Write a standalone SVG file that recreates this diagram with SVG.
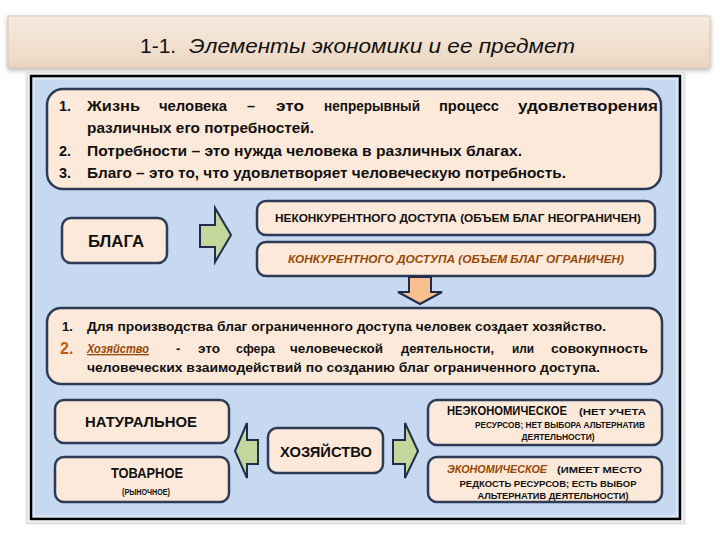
<svg xmlns="http://www.w3.org/2000/svg" width="720" height="540" viewBox="0 0 720 540">
<defs>
<linearGradient id="tg" x1="0" y1="0" x2="0" y2="1">
<stop offset="0" stop-color="#f6eadf"/><stop offset="0.5" stop-color="#f2e1d1"/><stop offset="1" stop-color="#ead5c2"/>
</linearGradient>
<filter id="sh" x="-5%" y="-20%" width="110%" height="140%">
<feDropShadow dx="0" dy="2" stdDeviation="2.5" flood-color="#888" flood-opacity="0.6"/>
</filter>
<style>
text{font-family:"Liberation Sans","Noto Sans",sans-serif;fill:#111;}
.box{fill:#fde9d9;stroke:#2e3b57;stroke-width:2.5;}
.ga{fill:#c3d69b;stroke:#1f2d4a;stroke-width:2;stroke-linejoin:miter;}
.oa{fill:#fac08f;stroke:#1f2d4a;stroke-width:2;}
.b{font-weight:bold;}
.br{fill:#984806;}
.m{font-size:14px;font-weight:bold;}
.s{font-size:9px;font-weight:bold;}
</style>
</defs>

<g id="title">
<rect x="8" y="16" width="702" height="52" fill="url(#tg)" stroke="#d9c6b4" stroke-width="1" filter="url(#sh)"/>
<text x="140" y="53" font-size="21">1-1.</text>
<text x="189" y="53" font-size="21" font-style="italic" textLength="386" lengthAdjust="spacingAndGlyphs">Элементы экономики и ее предмет</text>
</g>

<g id="frame">
<rect x="27" y="72" width="657" height="451" fill="none" stroke="#e3e3e3" stroke-width="3"/>
<rect x="31" y="76" width="649" height="443" fill="#c6d9f1" stroke="#000" stroke-width="2.5"/>
<rect x="34" y="79" width="643" height="437" fill="none" stroke="#dbe6f4" stroke-width="2"/>
</g>

<g id="box1">
<rect class="box" x="47" y="89" width="614" height="100" rx="16"/>
<g font-size="14.5">
<text x="59" y="111" class="b">1.</text>
<text x="87" y="111" class="b" textLength="53" lengthAdjust="spacingAndGlyphs">Жизнь</text>
<text x="159" y="111" class="b" textLength="68" lengthAdjust="spacingAndGlyphs">человека</text>
<text x="247" y="111" class="b">–</text>
<text x="276" y="111" class="b" textLength="28" lengthAdjust="spacingAndGlyphs">это</text>
<text x="324" y="111" class="b" textLength="96" lengthAdjust="spacingAndGlyphs">непрерывный</text>
<text x="439" y="111" class="b" textLength="60" lengthAdjust="spacingAndGlyphs">процесс</text>
<text x="518" y="111" class="b" textLength="140" lengthAdjust="spacingAndGlyphs">удовлетворения</text>
<text x="87" y="133" class="b" textLength="227" lengthAdjust="spacingAndGlyphs">различных его потребностей.</text>
<text x="59" y="156" class="b">2.</text>
<text x="87" y="156" class="b" textLength="435" lengthAdjust="spacingAndGlyphs">Потребности – это нужда человека в различных благах.</text>
<text x="59" y="178" class="b">3.</text>
<text x="87" y="178" class="b" textLength="479" lengthAdjust="spacingAndGlyphs">Благо – это то, что удовлетворяет человеческую потребность.</text>
</g>
</g>

<g id="blaga">
<rect class="box" x="62" y="218" width="105" height="45" rx="9"/>
<text x="116" y="247" font-size="17" class="b" text-anchor="middle" textLength="56" lengthAdjust="spacingAndGlyphs">БЛАГА</text>
</g>

<g id="nekonk">
<rect class="box" x="257" y="201" width="398" height="34" rx="9"/>
<text x="458" y="222" font-size="11" class="b" text-anchor="middle" textLength="366" lengthAdjust="spacingAndGlyphs">НЕКОНКУРЕНТНОГО ДОСТУПА (ОБЪЕМ БЛАГ НЕОГРАНИЧЕН)</text>
</g>

<g id="konk">
<rect class="box" x="257" y="242" width="398" height="34" rx="9"/>
<text x="456" y="263" font-size="11" class="b br" font-style="italic" text-anchor="middle" textLength="336" lengthAdjust="spacingAndGlyphs">КОНКУРЕНТНОГО ДОСТУПА (ОБЪЕМ БЛАГ ОГРАНИЧЕН)</text>
</g>

<g id="box2">
<rect class="box" x="47" y="308" width="615" height="76" rx="14"/>
<text x="62" y="331" font-size="13" class="b">1.</text>
<text x="87" y="331" font-size="13" class="b" textLength="519" lengthAdjust="spacingAndGlyphs">Для производства благ ограниченного доступа человек создает хозяйство.</text>
<text x="60" y="354" font-size="16" class="b" style="fill:#c55a11">2.</text>
<text x="87" y="353" font-size="13" class="b br" font-style="italic" text-decoration="underline" textLength="62" lengthAdjust="spacingAndGlyphs">Хозяйство</text>
<g font-size="13">
<text x="176" y="353" class="b">-</text>
<text x="198" y="353" class="b" textLength="22" lengthAdjust="spacingAndGlyphs">это</text>
<text x="236" y="353" class="b" textLength="39" lengthAdjust="spacingAndGlyphs">сфера</text>
<text x="290" y="353" class="b" textLength="93" lengthAdjust="spacingAndGlyphs">человеческой</text>
<text x="401" y="353" class="b" textLength="93" lengthAdjust="spacingAndGlyphs">деятельности,</text>
<text x="512" y="353" class="b" textLength="22" lengthAdjust="spacingAndGlyphs">или</text>
<text x="551" y="353" class="b" textLength="97" lengthAdjust="spacingAndGlyphs">совокупность</text>
<text x="87" y="372" class="b" textLength="513" lengthAdjust="spacingAndGlyphs">человеческих взаимодействий по созданию благ ограниченного доступа.</text>
</g>
</g>

<g id="natur">
<rect class="box" x="55" y="400" width="174" height="43" rx="9"/>
<text x="141" y="427" class="m" text-anchor="middle" textLength="112" lengthAdjust="spacingAndGlyphs">НАТУРАЛЬНОЕ</text>
</g>

<g id="tovar">
<rect class="box" x="55" y="457" width="174" height="45" rx="9"/>
<text x="147" y="478" class="m" text-anchor="middle" textLength="72" lengthAdjust="spacingAndGlyphs">ТОВАРНОЕ</text>
<text x="146" y="495" class="s" text-anchor="middle" textLength="48" lengthAdjust="spacingAndGlyphs">(РЫНОЧНОЕ)</text>
</g>

<g id="hoz">
<rect class="box" x="268" y="428" width="115" height="45" rx="9"/>
<text x="326" y="457" class="m" text-anchor="middle" textLength="92" lengthAdjust="spacingAndGlyphs">ХОЗЯЙСТВО</text>
</g>

<g id="neekon">
<rect class="box" x="428" y="400" width="234" height="45" rx="9"/>
<text x="447" y="415" font-size="12" class="b" textLength="120" lengthAdjust="spacingAndGlyphs">НЕЭКОНОМИЧЕСКОЕ</text>
<text x="579" y="415" class="s" textLength="67" lengthAdjust="spacingAndGlyphs">(НЕТ УЧЕТА</text>
<text x="560" y="428" class="s" text-anchor="middle" textLength="170" lengthAdjust="spacingAndGlyphs">РЕСУРСОВ; НЕТ ВЫБОРА АЛЬТЕРНАТИВ</text>
<text x="558" y="440" class="s" text-anchor="middle" textLength="73" lengthAdjust="spacingAndGlyphs">ДЕЯТЕЛЬНОСТИ)</text>
</g>

<g id="ekon">
<rect class="box" x="428" y="457" width="234" height="45" rx="9"/>
<text x="447" y="473" font-size="11.5" class="b br" font-style="italic" textLength="100" lengthAdjust="spacingAndGlyphs">ЭКОНОМИЧЕСКОЕ</text>
<text x="557" y="473" class="s" textLength="85" lengthAdjust="spacingAndGlyphs">(ИМЕЕТ МЕСТО</text>
<text x="548" y="487" class="s" text-anchor="middle" textLength="177" lengthAdjust="spacingAndGlyphs">РЕДКОСТЬ РЕСУРСОВ;  ЕСТЬ ВЫБОР</text>
<text x="553" y="499" class="s" text-anchor="middle" textLength="151" lengthAdjust="spacingAndGlyphs">АЛЬТЕРНАТИВ ДЕЯТЕЛЬНОСТИ)</text>
</g>

<g id="connectors">
<polygon class="ga" points="200,225 215,225 215,208 231,235 215,262 215,247 200,247"/>
<polygon class="oa" points="409,277 431,277 431,292 442,292 420,304 398,292 409,292"/>
<polygon class="ga" points="258,440 247,440 247,423 235,451 247,478 247,464 258,464"/>
<polygon class="ga" points="393,440 405,440 405,423 418,451 405,478 405,464 393,464"/>
</g>
</svg>
